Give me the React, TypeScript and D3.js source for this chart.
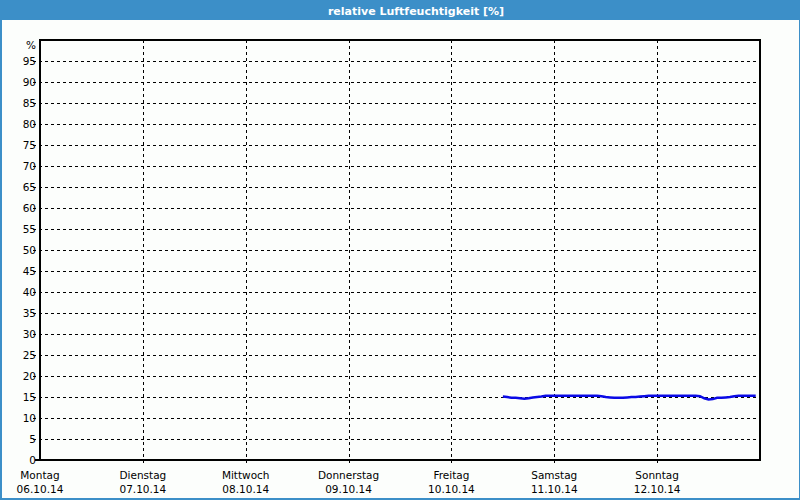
import React from "react";
import * as d3 from "d3";

const title = "relative Luftfeuchtigkeit [%]";
const dayNames = ["Montag", "Dienstag", "Mittwoch", "Donnerstag", "Freitag", "Samstag", "Sonntag"];
const dayDates = ["06.10.14", "07.10.14", "08.10.14", "09.10.14", "10.10.14", "11.10.14", "12.10.14"];
const yTicks = [0, 5, 10, 15, 20, 25, 30, 35, 40, 45, 50, 55, 60, 65, 70, 75, 80, 85, 90, 95];
// hours since Monday 06.10.14 00:00
const hours = [
  108, 109, 110, 111, 112, 113, 114, 115, 116, 117, 118, 119, 120, 121, 122, 123, 124, 125, 126, 127,
  128, 129, 130, 131, 132, 133, 134, 135, 136, 137, 138, 139, 140, 141, 142, 143, 144, 145, 146, 147,
  148, 149, 150, 151, 152, 153, 154, 155, 156, 157, 158, 159, 160, 161, 162, 163, 164, 165, 166, 167,
];
const humidity = [
  15.1, 15.0, 14.8, 14.8, 14.7, 14.6, 14.7, 14.9, 15.0, 15.1, 15.3, 15.3, 15.3, 15.3, 15.3, 15.3, 15.3, 15.3, 15.3, 15.3,
  15.3, 15.3, 15.3, 15.2, 15.0, 14.9, 14.8, 14.8, 14.8, 14.9, 15.0, 15.0, 15.1, 15.2, 15.3, 15.3, 15.3, 15.3, 15.3, 15.3,
  15.3, 15.3, 15.3, 15.3, 15.3, 15.3, 15.2, 14.7, 14.4, 14.5, 14.8, 14.8, 14.9, 15.0, 15.2, 15.3, 15.3, 15.3, 15.3, 15.3,
];

const W = 800;
const H = 500;
const L = 40, R = 760, T = 40, B = 460;
const BLUE = "#3c8fc8";
const FONT = "'DejaVu Sans', Verdana, sans-serif";
const FS = 10.5;

export default function App() {
  const x = d3.scaleLinear().domain([0, 7 * 24]).range([L, R]);
  const y = d3.scaleLinear().domain([0, 100]).range([B, T]);
  const data = hours.map((h, i) => ({ h, v: humidity[i] }));
  const line = d3
    .line<{ h: number; v: number }>()
    .x((d) => x(d.h))
    .y((d) => y(d.v));

  return (
    <svg
      width={W}
      height={H}
      style={{ position: "fixed", left: 0, top: 0, display: "block" }}
      fontFamily={FONT}
    >
      <rect x={0} y={0} width={W} height={H} fill={BLUE} />
      <rect x={2} y={20} width={W - 3} height={H - 22} fill="#fcfefc" />
      <text x={416} y={14.5} textAnchor="middle" fill="#ffffff" fontSize={11} fontWeight="bold">
        {title}
      </text>

      {/* horizontal grid */}
      {yTicks.map((t) => (
        <g key={"y" + t}>
          {t > 0 && (
            <line
              x1={33}
              x2={R}
              y1={Math.round(y(t)) + 0.5}
              y2={Math.round(y(t)) + 0.5}
              stroke="#000"
              strokeWidth={1}
              strokeDasharray="3,3"
            />
          )}
          <text x={36} y={y(t) + 4} textAnchor="end" fontSize={FS} fill="#000">
            {t}
          </text>
        </g>
      ))}
      <line x1={35} x2={L} y1={B} y2={B} stroke="#000" strokeWidth={2} />
      <text x={36} y={49} textAnchor="end" fontSize={FS} fill="#000">
        %
      </text>

      {/* vertical grid + labels */}
      {dayNames.map((n, i) => {
        const px = x(i * 24);
        return (
          <g key={"d" + i}>
            {i > 0 && (
              <line
                x1={Math.round(px) + 0.5}
                x2={Math.round(px) + 0.5}
                y1={T}
                y2={B + 5}
                stroke="#000"
                strokeWidth={1}
                strokeDasharray="3,3"
              />
            )}
            <text x={px} y={479} textAnchor="middle" fontSize={FS} fill="#000">
              {n}
            </text>
            <text x={px} y={493} textAnchor="middle" fontSize={FS} fill="#000">
              {dayDates[i]}
            </text>
          </g>
        );
      })}

      {/* frame */}
      <rect x={L} y={T} width={R - L} height={B - T} fill="none" stroke="#000" strokeWidth={2} />

      <path d={line(data) || ""} fill="none" stroke="#0a0ae6" strokeWidth={2.5} />
    </svg>
  );
}
